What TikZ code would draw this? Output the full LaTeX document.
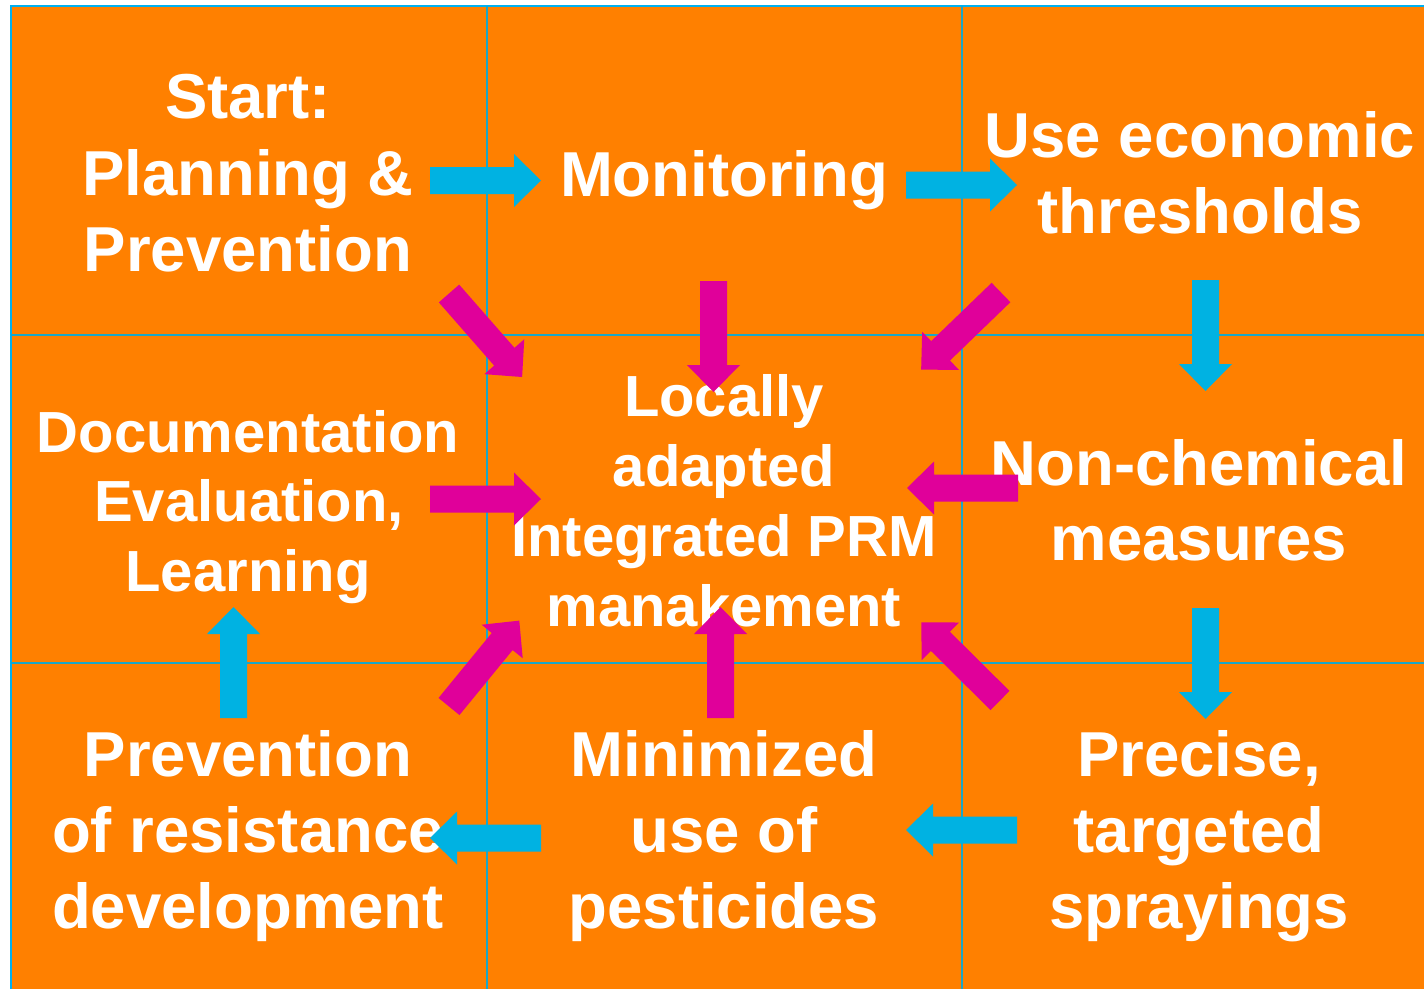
\documentclass[tikz,border=0pt]{standalone}
\usepackage{fontspec}
\setmainfont{Liberation Sans}
\definecolor{bgorange}{HTML}{FF8000}
\definecolor{arrblue}{HTML}{00B2E2}
\definecolor{arrmag}{HTML}{E0009A}
\definecolor{gridcol}{HTML}{1AA7C8}
\definecolor{framecol}{HTML}{00B0F0}
\newcommand\blockarrow[4]{%
  \fill[#1, shift={(#2,#3)}, rotate=#4] (0pt,-13.5pt) -- (84pt,-13.5pt) -- (84pt,-26.5pt) -- (111pt,0pt) -- (84pt,26.5pt) -- (84pt,13.5pt) -- (0pt,13.5pt) -- cycle;}
\begin{document}
\begin{tikzpicture}[x=1pt,y=-1pt,
  txt/.style={text=white, font=\bfseries\fontsize{63.5}{76}\selectfont, inner sep=0pt, anchor=base},
  ctxt/.style={txt, font=\bfseries\fontsize{58}{70}\selectfont},
  gridline/.style={draw=gridcol, line width=2pt},
  framelines/.style={draw=framecol, line width=2pt}]
\useasboundingbox (0,0) rectangle (1424,989);
\fill[white] (0,0) rectangle (1424,989);
\fill[bgorange] (10,5) rectangle (1424,989);
% frame
\draw[framelines] (10.5,989) -- (10.5,5.5) -- (1424,5.5);
% grid
\draw[gridline] (486.5,6) -- (486.5,989);
\draw[gridline] (961.5,6) -- (961.5,989);
\draw[gridline] (11,334.5) -- (1424,334.5);
\draw[gridline] (11,663) -- (1424,663);
% texts
\node[txt] (start1) at (248,118) {Start:};
\node[txt] (start2) at (248,195) {Planning \&};
\node[txt] (start3) at (248,271) {Prevention};
\node[txt] (mon) at (724,196) {Monitoring};
\node[txt] (thr1) at (1200,157) {Use economic};
\node[txt] (thr2) at (1200,233) {thresholds};
\node[ctxt] (doc1) at (248,452) {Documentation};
\node[ctxt] (doc2) at (249,521) {Evaluation,};
\node[ctxt] (doc3) at (248,591) {Learning};
\node[ctxt] (cen1) at (724,416) {Locally};
\node[ctxt] (cen2) at (724,486) {adapted};
\node[ctxt] (cen3) at (724,556) {Integrated PRM};
\node[ctxt] (cen4) at (724,626) {manakement};
\node[txt] (non1) at (1199,485) {Non-chemical};
\node[txt] (non2) at (1199,560) {measures};
\node[txt] (res1) at (248,776) {Prevention};
\node[txt] (res2) at (248,852) {of resistance};
\node[txt] (res3) at (248,928) {development};
\node[txt] (min1) at (724,776) {Minimized};
\node[txt] (min2) at (724,852) {use of};
\node[txt] (min3) at (724,928) {pesticides};
\node[txt] (pre1) at (1199,776) {Precise,};
\node[txt] (pre2) at (1199,852) {targeted};
\node[txt] (pre3) at (1199,928) {sprayings};
% blue arrows (cycle)
\blockarrow{arrblue}{430}{180.5}{0}
\blockarrow{arrblue}{906}{185}{0}
\blockarrow{arrblue}{1205.5}{280}{-90}
\blockarrow{arrblue}{1205.5}{608}{-90}
\blockarrow{arrblue}{1017}{830}{180}
\blockarrow{arrblue}{541}{838}{180}
\blockarrow{arrblue}{233.5}{718}{90}
% magenta arrows (to centre)
\blockarrow{arrmag}{449}{293.5}{-48.8}
\blockarrow{arrmag}{713.5}{281}{-90}
\blockarrow{arrmag}{1001}{292.5}{-136}
\blockarrow{arrmag}{430}{499}{0}
\blockarrow{arrmag}{1018}{488}{180}
\blockarrow{arrmag}{1000}{700.5}{135.2}
\blockarrow{arrmag}{720.5}{718}{90}
\blockarrow{arrmag}{449}{706.5}{50.7}
\end{tikzpicture}
\end{document}
